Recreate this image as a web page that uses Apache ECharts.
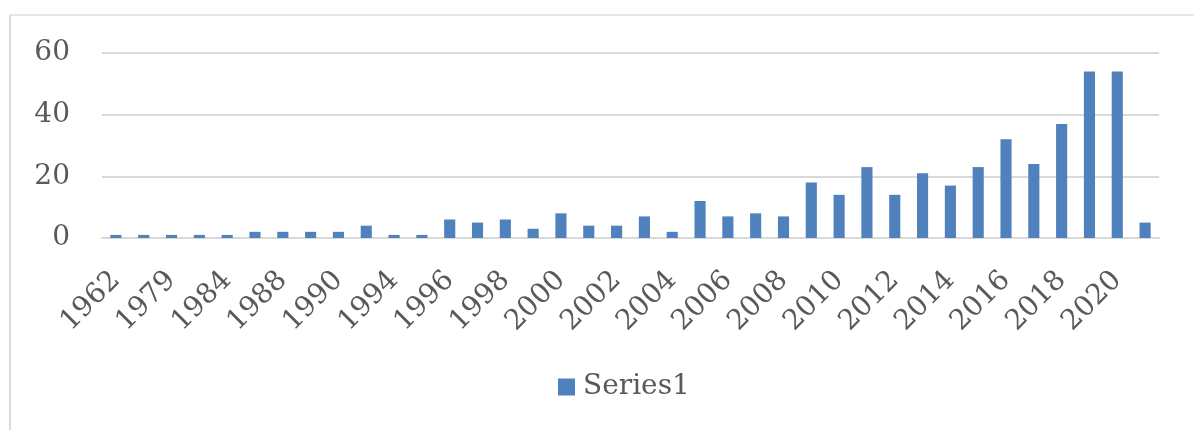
<!DOCTYPE html>
<html>
<head>
<meta charset="utf-8">
<script src="https://cdn.jsdelivr.net/npm/echarts@6/dist/echarts.min.js"></script>
<style>
  html, body { margin: 0; padding: 0; background: #fff; }
  #chart { width: 1194px; height: 430px; }
</style>
</head>
<body>
<div id="chart"></div>
<script>
// categories (labels shown on every other one)
var years = ['1962', '1976', '1979', '1981', '1984', '1986', '1988', '1989', '1990', '1992',
             '1994', '1995', '1996', '1997', '1998', '1999', '2000', '2001', '2002', '2003',
             '2004', '2005', '2006', '2007', '2008', '2009', '2010', '2011', '2012', '2013',
             '2014', '2015', '2016', '2017', '2018', '2019', '2020', '2021'];
var series1 = [1, 1, 1, 1, 1, 2, 2, 2, 2, 4,
               1, 1, 6, 5, 6, 3, 8, 4, 4, 7,
               2, 12, 7, 8, 7, 18, 14, 23, 14, 21,
               17, 23, 32, 24, 37, 54, 54, 5];
var yTicks = [0, 20, 40, 60];

var textColor = '#595959';
var gridColor = '#d9d9d9';
var font = 'DejaVu Serif';

var myChart = echarts.init(document.getElementById('chart'));
myChart.setOption({
    backgroundColor: '#ffffff',
    animation: false,
    grid: {
        left: 102,
        right: 35,
        top: 53,
        bottom: 192
    },
    legend: {
        data: ['Series1'],
        left: 553,
        top: 368,
        icon: 'rect',
        itemWidth: 17,
        itemHeight: 17,
        textStyle: { color: textColor, fontFamily: font, fontSize: 28, padding: [0, 0, 0, 3] }
    },
    xAxis: {
        type: 'category',
        data: years,
        axisTick: { show: false },
        axisLine: { lineStyle: { color: gridColor, width: 2 } },
        axisLabel: {
            interval: 1,
            rotate: 45,
            margin: 38,
            color: textColor,
            fontFamily: font,
            fontSize: 28
        }
    },
    yAxis: {
        type: 'value',
        min: yTicks[0],
        max: yTicks[yTicks.length - 1],
        interval: yTicks[1] - yTicks[0],
        axisLine: { show: false },
        axisTick: { show: false },
        splitLine: { lineStyle: { color: gridColor, width: 2 } },
        axisLabel: {
            margin: 32,
            color: textColor,
            fontFamily: font,
            fontSize: 28
        }
    },
    // chart-area border from the source picture
    graphic: [
        { type: 'line', shape: { x1: 10, y1: 15, x2: 1194, y2: 15 }, style: { stroke: '#e6e6e6', lineWidth: 2 } },
        { type: 'line', shape: { x1: 10, y1: 15, x2: 10, y2: 430 }, style: { stroke: '#d9d9d9', lineWidth: 2 } }
    ],
    series: [
        {
            name: 'Series1',
            type: 'bar',
            data: series1,
            barWidth: '40%',
            itemStyle: { color: '#4f81bd' }
        }
    ]
});
</script>
</body>
</html>
